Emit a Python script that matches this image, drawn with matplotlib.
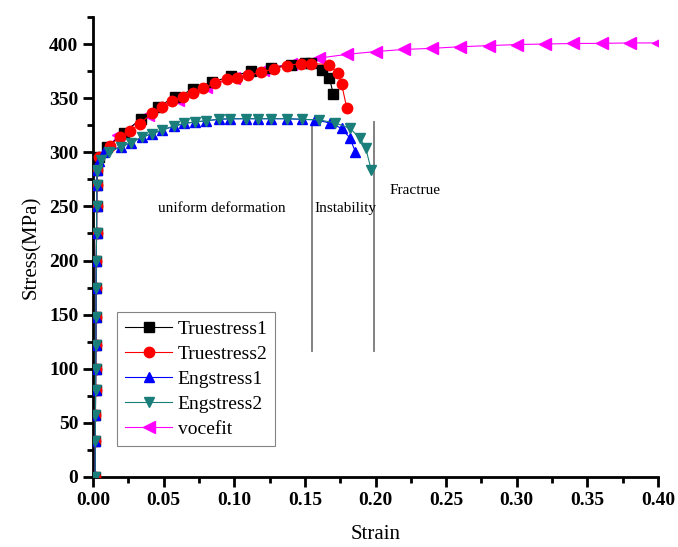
import matplotlib.pyplot as plt
from matplotlib.ticker import MultipleLocator

plt.rcParams['font.family'] = ['Liberation Serif', 'DejaVu Serif']

# elastic part, shared by all four measured curves
elastic_strain = [0.0015, 0.0016, 0.0017, 0.0018, 0.0019, 0.0020, 0.0021,
                  0.0022, 0.0023, 0.0025, 0.0026, 0.0027, 0.0030]
elastic_stress = [0, 33, 57, 80, 100, 122, 148, 175, 200, 225, 250, 270, 284]

true1_strain = [0.004, 0.010, 0.022, 0.034, 0.046, 0.058, 0.071, 0.084, 0.098,
                0.112, 0.126, 0.140, 0.150, 0.1545, 0.162, 0.1674, 0.170]
true1_stress = [296, 305, 318, 331, 342, 351, 358, 365, 370,
                375, 378, 381, 382.5, 382.7, 376, 369, 354]

true2_strain = [0.004, 0.012, 0.019, 0.026, 0.033, 0.0416, 0.0487, 0.0558, 0.0635,
                0.0707, 0.078, 0.0865, 0.0948, 0.102, 0.110, 0.119, 0.128, 0.137,
                0.147, 0.154, 0.1669, 0.1733, 0.176, 0.1797]
true2_stress = [296, 306, 314, 320, 326, 336, 342, 347, 351,
                355, 359, 363.7, 367.4, 369, 371, 374, 377, 380,
                382, 382, 381, 373.5, 363, 340.6]

eng1_strain = [0.004, 0.008, 0.0196, 0.027, 0.0345, 0.0416, 0.049, 0.057, 0.0645,
               0.072, 0.080, 0.089, 0.097, 0.108, 0.117, 0.126, 0.137, 0.148,
               0.157, 0.168, 0.176, 0.182, 0.1858]
eng1_stress = [292, 300, 305, 309, 314, 317, 320.6, 324, 326.6,
               328, 329, 330.5, 331, 331, 331, 331, 331, 330.4,
               330, 327, 322, 313, 300]

eng2_strain = [0.003, 0.006, 0.011, 0.0196, 0.027, 0.0345, 0.0416, 0.049, 0.057,
               0.0645, 0.072, 0.080, 0.089, 0.097, 0.108, 0.117, 0.126, 0.137,
               0.148, 0.160, 0.1716, 0.182, 0.189, 0.193, 0.197]
eng2_stress = [283, 293, 300, 305, 309, 314, 317, 320.6, 324,
               326.6, 328, 329, 330.5, 330.8, 331, 331, 331, 331,
               330.4, 330, 327, 322, 313, 304, 283.6]

voce_strain = [0.002, 0.018, 0.039, 0.060, 0.080, 0.100, 0.120, 0.140, 0.160,
               0.180, 0.200, 0.220, 0.240, 0.260, 0.280, 0.300, 0.320, 0.340,
               0.360, 0.380, 0.400]
voce_stress = [291, 316, 334, 348, 360, 369, 376, 382, 387,
               390.5, 393, 395, 396, 397.5, 398.5, 399.5, 400, 400.5,
               400.6, 401, 401]

series = [
    ("Truestress1", true1_strain, true1_stress, 'black', 's'),
    ("Truestress2", true2_strain, true2_stress, 'red', 'o'),
    ("Engstress1", eng1_strain, eng1_stress, 'blue', '^'),
    ("Engstress2", eng2_strain, eng2_stress, '#1a7f7a', 'v'),
]

fig = plt.figure(figsize=(6.78, 5.47), dpi=100)
ax = fig.add_axes([0.1372, 0.128, 0.8333, 0.841])

handles = []
vh, = ax.plot(voce_strain, voce_stress, color='magenta', marker='<', ms=8.5,
              lw=0.8, label='vocefit', zorder=2)
for i, (name, xs, ys, c, m) in enumerate(series):
    h, = ax.plot(elastic_strain + xs, elastic_stress + ys, color=c, marker=m,
                 ms=7.5, lw=0.8, label=name, zorder=3 + i)
    handles.append(h)
handles.append(vh)

# region boundaries
ax.plot([0.1551, 0.1551], [116, 327], color='#777777', lw=1.3, zorder=1)
ax.plot([0.1986, 0.1986], [116, 328], color='#777777', lw=1.3, zorder=1)
ax.text(0.0915, 248, 'uniform deformation', ha='center', va='center', fontsize=11)
ax.text(0.1565, 248, 'Instability', ha='left', va='center', fontsize=11)
ax.text(0.2277, 265, 'Fractrue', ha='center', va='center', fontsize=11)

ax.set_xlim(0, 0.40)
ax.set_ylim(0, 425)
ax.xaxis.set_minor_locator(MultipleLocator(0.025))
ax.yaxis.set_major_locator(MultipleLocator(50))
ax.yaxis.set_minor_locator(MultipleLocator(25))
ax.set_xticks([0, 0.05, 0.10, 0.15, 0.20, 0.25, 0.30, 0.35, 0.40])
ax.set_xticklabels(['0.00', '0.05', '0.10', '0.15', '0.20', '0.25', '0.30', '0.35', '0.40'])
ax.tick_params(which='major', direction='out', length=7, width=2, labelsize=14)
ax.tick_params(which='minor', direction='out', length=4, width=2)
for lab in ax.get_xticklabels() + ax.get_yticklabels():
    lab.set_fontweight('bold')
for s in ('top', 'right'):
    ax.spines[s].set_visible(False)
for s in ('left', 'bottom'):
    ax.spines[s].set_linewidth(2)

ax.set_xlabel('Strain', fontsize=15, labelpad=12)
ax.set_ylabel('Stress(MPa)', fontsize=15, labelpad=6)

leg = ax.legend(handles=handles, loc='lower left', bbox_to_anchor=(0.026, 0.047),
                fontsize=14, frameon=True, fancybox=False, edgecolor='#666666',
                handlelength=2.4, labelspacing=0.38, borderpad=0.4, handletextpad=0.3)
leg.get_frame().set_linewidth(0.8)

fig.savefig('out.png', dpi=100)
